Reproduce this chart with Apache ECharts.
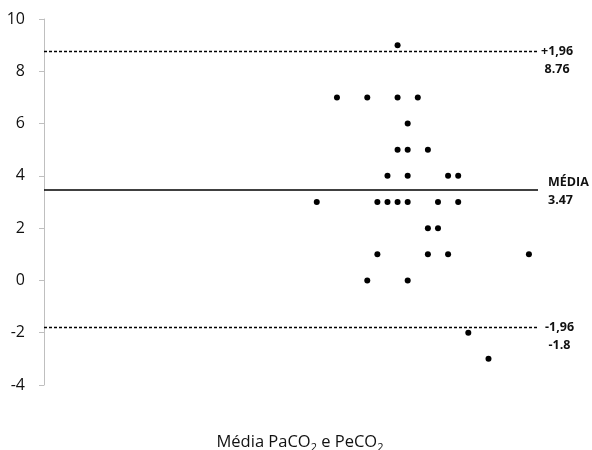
<!DOCTYPE html>
<html>
<head>
<meta charset="utf-8">
<script src="https://cdn.jsdelivr.net/npm/echarts@6/dist/echarts.min.js"></script>
<style>html,body{margin:0;padding:0;background:#fff}#c{width:592px;height:450px}</style>
</head>
<body>
<div id="c"></div>
<script>
// Bland-Altman style data: x = mean, y = difference
var pointX = [35, 29, 32, 35, 37, 36, 35, 36, 38, 34, 36, 40, 41, 27, 33, 34, 35, 36, 39, 41, 38, 39, 33, 38, 40, 48, 32, 36, 42, 44];
var pointY = [9, 7, 7, 7, 7, 6, 5, 5, 5, 4, 4, 4, 4, 3, 3, 3, 3, 3, 3, 3, 2, 2, 1, 1, 1, 1, 0, 0, -2, -3];
var meanDiff = 3.47;
var upperLimit = 8.76;
var lowerLimit = -1.8;
var limitNames = ['+1,96', 'MÉDIA', '-1,96'];
var yTicks = { min: -4, max: 10, interval: 2 };
var xTitle = 'Média PaCO2 e PeCO2';

var pts = pointX.map(function (x, i) { return [x, pointY[i]]; });

var chart = echarts.init(document.getElementById('c'));
var labFont = 'Open Sans';
chart.setOption({
  animation: false,
  grid: { left: 44, right: 54, top: 19, bottom: 65, containLabel: false, outerBoundsMode: 'none' },
  xAxis: {
    type: 'value', min: 0, max: 48.9,
    axisLine: { show: false }, axisTick: { show: false }, axisLabel: { show: false }, splitLine: { show: false },
    name: '{a|Média PaCO}{s|2}{a| e PeCO}{s|2}',
    nameLocation: 'middle', nameGap: 46,
    nameTextStyle: {
      padding: [0, 0, 0, 18],
      rich: {
        a: { fontFamily: labFont, fontSize: 16.5, color: '#111', lineHeight: 22, verticalAlign: 'middle' },
        s: { fontFamily: labFont, fontSize: 11, color: '#111', lineHeight: 22, verticalAlign: 'bottom' }
      }
    }
  },
  yAxis: {
    type: 'value', min: yTicks.min, max: yTicks.max, interval: yTicks.interval,
    axisLine: { show: true, lineStyle: { color: '#bfbfbf', width: 1 } },
    axisTick: { show: true, inside: false, length: 5, lineStyle: { color: '#bfbfbf' } },
    axisLabel: { fontFamily: labFont, fontSize: 16, color: '#111', margin: 19 },
    splitLine: { show: false }
  },
  series: [{
    type: 'scatter',
    data: pts,
    symbol: 'circle',
    symbolSize: 6,
    itemStyle: { color: '#000', opacity: 1 },
    markLine: {
      silent: true,
      symbol: 'none',
      animation: false,
      data: [
        {
          yAxis: upperLimit,
          lineStyle: { color: '#000', type: [3, 2], width: 1.3, opacity: 1 },
          label: {
            position: 'end', distance: 3, align: 'left', padding: [18, 0, 0, 0],
            formatter: '{a|' + limitNames[0] + '}\n{a|' + upperLimit + '}',
            rich: { a: { fontFamily: labFont, fontWeight: 'bold', fontSize: 12.5, color: '#111', lineHeight: 18, align: 'center' } }
          }
        },
        {
          yAxis: meanDiff,
          lineStyle: { color: '#000', type: 'solid', width: 1.5, opacity: 1 },
          label: {
            position: 'end', distance: 10, align: 'left', padding: [4, 0, 0, 0],
            formatter: '{a|' + limitNames[1] + '}\n{a|' + meanDiff + '}',
            rich: { a: { fontFamily: labFont, fontWeight: 'bold', fontSize: 12.5, color: '#111', lineHeight: 18, align: 'left' } }
          }
        },
        {
          yAxis: lowerLimit,
          lineStyle: { color: '#000', type: [3, 2], width: 1.3, opacity: 1 },
          label: {
            position: 'end', distance: 7, align: 'left', padding: [18, 0, 0, 0],
            formatter: '{a|' + limitNames[2] + '}\n{a|' + lowerLimit + '}',
            rich: { a: { fontFamily: labFont, fontWeight: 'bold', fontSize: 12.5, color: '#111', lineHeight: 18, align: 'center' } }
          }
        }
      ]
    }
  }]
});
</script>
</body>
</html>
